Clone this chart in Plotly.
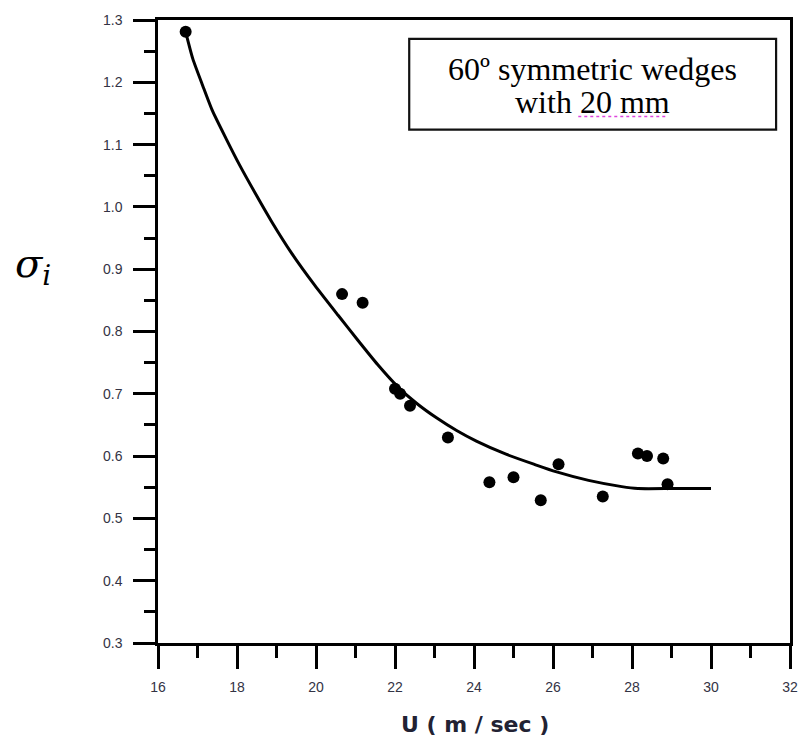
import plotly.graph_objects as go

# Measured data points
u_points = [16.70, 20.66, 21.18, 22.00, 22.13, 22.38, 23.34, 24.39, 25.00, 25.69,
            26.14, 27.26, 28.15, 28.38, 28.79, 28.90]
sigma_points = [1.281, 0.860, 0.846, 0.708, 0.700, 0.681, 0.630, 0.558, 0.566, 0.529,
                0.587, 0.535, 0.604, 0.600, 0.596, 0.555]

# Fitted curve
u_curve = [16.70, 16.88, 17.13, 17.38, 17.72, 18.05, 18.47, 18.89, 19.39, 19.97,
           20.56, 21.06, 21.56, 22.06, 22.56, 23.06, 23.56, 24.06, 24.81, 25.56,
           26.07, 26.90, 27.74, 28.15, 29.07, 30.00]
sigma_curve = [1.281, 1.238, 1.195, 1.154, 1.110, 1.069, 1.021, 0.975, 0.925, 0.874,
               0.826, 0.786, 0.747, 0.712, 0.684, 0.661, 0.641, 0.624, 0.603, 0.586,
               0.575, 0.561, 0.551, 0.548, 0.548, 0.548]

x_ticks = [16, 18, 20, 22, 24, 26, 28, 30, 32]
y_ticks = [0.3, 0.4, 0.5, 0.6, 0.7, 0.8, 0.9, 1.0, 1.1, 1.2, 1.3]

legend_lines = ["60º symmetric wedges", "with 20 mm"]

fig = go.Figure()
fig.add_trace(go.Scatter(x=u_curve, y=sigma_curve, mode="lines",
                         line=dict(color="black", width=3, shape="spline", smoothing=0.6),
                         showlegend=False))
fig.add_trace(go.Scatter(x=u_points, y=sigma_points, mode="markers",
                         marker=dict(color="black", size=12, symbol="circle"),
                         showlegend=False))

tick_font = dict(family="Liberation Sans, Arial", size=14, color="#333344")

fig.update_layout(
    width=810, height=745,
    margin=dict(l=158, r=12, t=18, b=102),
    paper_bgcolor="white", plot_bgcolor="white",
    xaxis=dict(range=[16, 32], tickvals=x_ticks, ticktext=[str(v) for v in x_ticks],
               showgrid=False, zeroline=False, showline=True, linecolor="black",
               linewidth=2.5, mirror=True, ticks="outside", ticklen=23, tickwidth=2.5,
               tickcolor="black", tickfont=tick_font, ticklabelstandoff=6,
               minor=dict(ticks="outside", dtick=1, ticklen=12, tickwidth=2.5,
                          tickcolor="black", showgrid=False)),
    yaxis=dict(range=[0.3, 1.3], tickvals=y_ticks, ticktext=["%.1f" % v for v in y_ticks],
               showgrid=False, zeroline=False, showline=True, linecolor="black",
               linewidth=2.5, mirror=True, ticks="outside", ticklen=22, tickwidth=2.5,
               tickcolor="black", tickfont=tick_font, ticklabelstandoff=8,
               minor=dict(ticks="outside", dtick=0.05, ticklen=11, tickwidth=2.5,
                          tickcolor="black", showgrid=False)),
)

# Axis titles
fig.add_annotation(text="<b>U ( m / sec )</b>", xref="paper", yref="paper",
                   x=0.502, y=-0.131, xanchor="center", yanchor="middle", showarrow=False,
                   font=dict(family="DejaVu Sans, Verdana", size=22, color="#222233"))
fig.add_annotation(text="<i>σ<sub>i</sub></i>", xref="paper", yref="paper",
                   x=-0.198, y=0.605, xanchor="center", yanchor="middle", showarrow=False,
                   font=dict(family="DejaVu Serif, Liberation Serif", size=40, color="black"))

# Legend-like text box
fig.add_shape(type="rect", xref="paper", yref="paper", x0=0.3975, x1=0.978, y0=0.824, y1=0.9696,
              line=dict(color="#111111", width=2.2), fillcolor="white", layer="above")
fig.add_annotation(text=legend_lines[0], xref="paper", yref="paper", x=0.687, y=0.922,
                   xanchor="center", yanchor="middle", showarrow=False,
                   font=dict(family="Liberation Serif, Times New Roman", size=32, color="black"))
fig.add_annotation(text=legend_lines[1], xref="paper", yref="paper", x=0.687, y=0.868,
                   xanchor="center", yanchor="middle", showarrow=False,
                   font=dict(family="Liberation Serif, Times New Roman", size=32, color="black"))
fig.add_shape(type="line", xref="paper", yref="paper", x0=0.665, x1=0.806, y0=0.845, y1=0.845,
              line=dict(color="#dd44dd", width=1.5, dash="dot"), layer="above")

fig.write_html("out.html")
